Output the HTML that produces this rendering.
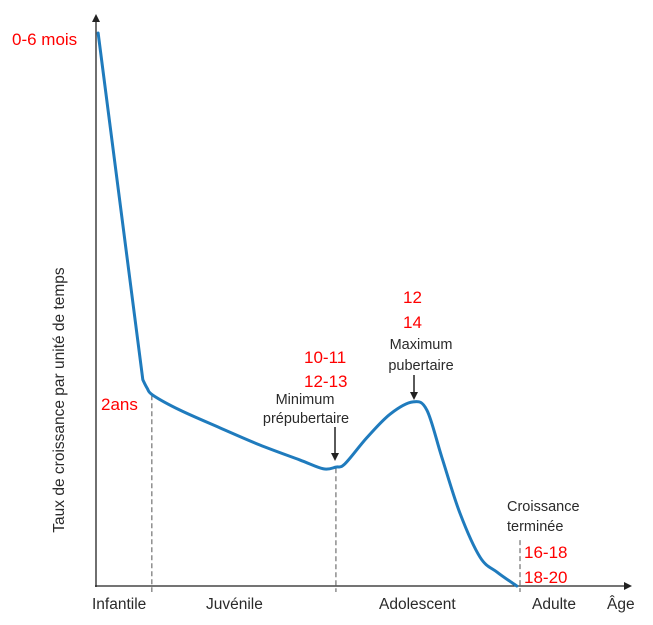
<!DOCTYPE html>
<html><head><meta charset="utf-8"><style>
html,body{margin:0;padding:0;background:#fff;}
svg{display:block;}
text{font-family:"Liberation Sans",sans-serif;}
.red{fill:#ff0000;font-size:17px;}
.blk{fill:#2a2a2a;font-size:14.5px;}
.lab{fill:#2a2a2a;font-size:15.5px;}
</style></head><body>
<svg id="chart" width="653" height="625" viewBox="0 0 653 625">
<defs>
<marker id="ah" markerWidth="8" markerHeight="8" refX="6" refY="4" orient="auto" markerUnits="userSpaceOnUse"><path d="M0,0 L8,4 L0,8 Z" fill="#222"/></marker>
</defs>
<line x1="96" y1="587" x2="96" y2="16" stroke="#222" stroke-width="1.3" marker-end="url(#ah)"/>
<line x1="95" y1="586" x2="630" y2="586" stroke="#222" stroke-width="1.3" marker-end="url(#ah)"/>
<g id="dashes"></g>
<path id="curve" fill="none" stroke="#1f7bbd" stroke-width="3" stroke-linejoin="round" stroke-linecap="round"/>
<text class="lab" transform="translate(64,400) rotate(-90)" text-anchor="middle">Taux de croissance par unité de temps</text>
<text class="red" x="12" y="45">0-6 mois</text>
<text class="red" x="101" y="410">2ans</text>
<text class="red" x="304" y="363">10-11</text>
<text class="red" x="304" y="387">12-13</text>
<text class="blk" x="305" y="404" text-anchor="middle">Minimum</text>
<text class="blk" x="306" y="423" text-anchor="middle">prépubertaire</text>
<line x1="335" y1="427" x2="335" y2="459" stroke="#222" stroke-width="1.5" marker-end="url(#ah)"/>
<text class="red" x="403" y="303">12</text>
<text class="red" x="403" y="328">14</text>
<text class="blk" x="421" y="349" text-anchor="middle">Maximum</text>
<text class="blk" x="421" y="370" text-anchor="middle">pubertaire</text>
<line x1="414" y1="375" x2="414" y2="398" stroke="#222" stroke-width="1.5" marker-end="url(#ah)"/>
<text class="blk" x="507" y="511">Croissance</text>
<text class="blk" x="507" y="531">terminée</text>
<text class="red" x="524" y="558">16-18</text>
<text class="red" x="524" y="583">18-20</text>
<text class="lab" x="92" y="609">Infantile</text>
<text class="lab" x="206" y="609">Juvénile</text>
<text class="lab" x="379" y="609">Adolescent</text>
<text class="lab" x="532" y="609">Adulte</text>
<text class="lab" x="607" y="609">Âge</text>
</svg>
<script>
// abstract units: x 0..100 along the age axis, y 0..100 growth rate
const ageX = [0.4, 8.8, 9.6, 10.7, 15.8, 23.3, 30.8, 38.3, 42.7, 45.1, 46.8, 50.9, 55.3, 59.6, 62.2, 65.0, 68.4, 72.2, 75.4, 79.1];
const rateY = [100, 37.3, 35.8, 34.5, 31.8, 28.6, 25.5, 22.8, 21.2, 21.5, 22.1, 26.8, 31.1, 33.3, 31.8, 23.3, 13.2, 5.2, 2.5, 0];
const dashX = [10.5, 45.1, 79.7];
const dashTopY = [34.5, 21.3, 8.3];

function xs(v){ return 96 + v * 5.32; }
function ys(v){ return 586 - v * 5.53; }

const pts = ageX.map((x,i)=>[xs(x), ys(rateY[i])]);
let d = 'M' + pts[0][0] + ',' + pts[0][1] + ' L' + pts[1][0] + ',' + pts[1][1];
for (let i = 1; i < pts.length - 1; i++) {
  const p0 = pts[i-1 < 1 ? 1 : i-1], p1 = pts[i], p2 = pts[i+1], p3 = pts[Math.min(i+2, pts.length-1)];
  const c1x = p1[0] + (p2[0]-p0[0])/6, c1y = p1[1] + (p2[1]-p0[1])/6;
  const c2x = p2[0] - (p3[0]-p1[0])/6, c2y = p2[1] - (p3[1]-p1[1])/6;
  d += ' C' + c1x + ',' + c1y + ' ' + c2x + ',' + c2y + ' ' + p2[0] + ',' + p2[1];
}
document.getElementById('curve').setAttribute('d', d);

const g = document.getElementById('dashes');
dashX.forEach((x,i)=>{
  const l = document.createElementNS('http://www.w3.org/2000/svg','line');
  
  
  l.setAttribute('x1', xs(x)); l.setAttribute('x2', xs(x));
  l.setAttribute('y1', ys(dashTopY[i])); l.setAttribute('y2', 592);
  l.setAttribute('stroke', '#555'); l.setAttribute('stroke-width', '1');
  l.setAttribute('stroke-dasharray', '5,3');
  g.appendChild(l);
});
</script>
</body></html>
